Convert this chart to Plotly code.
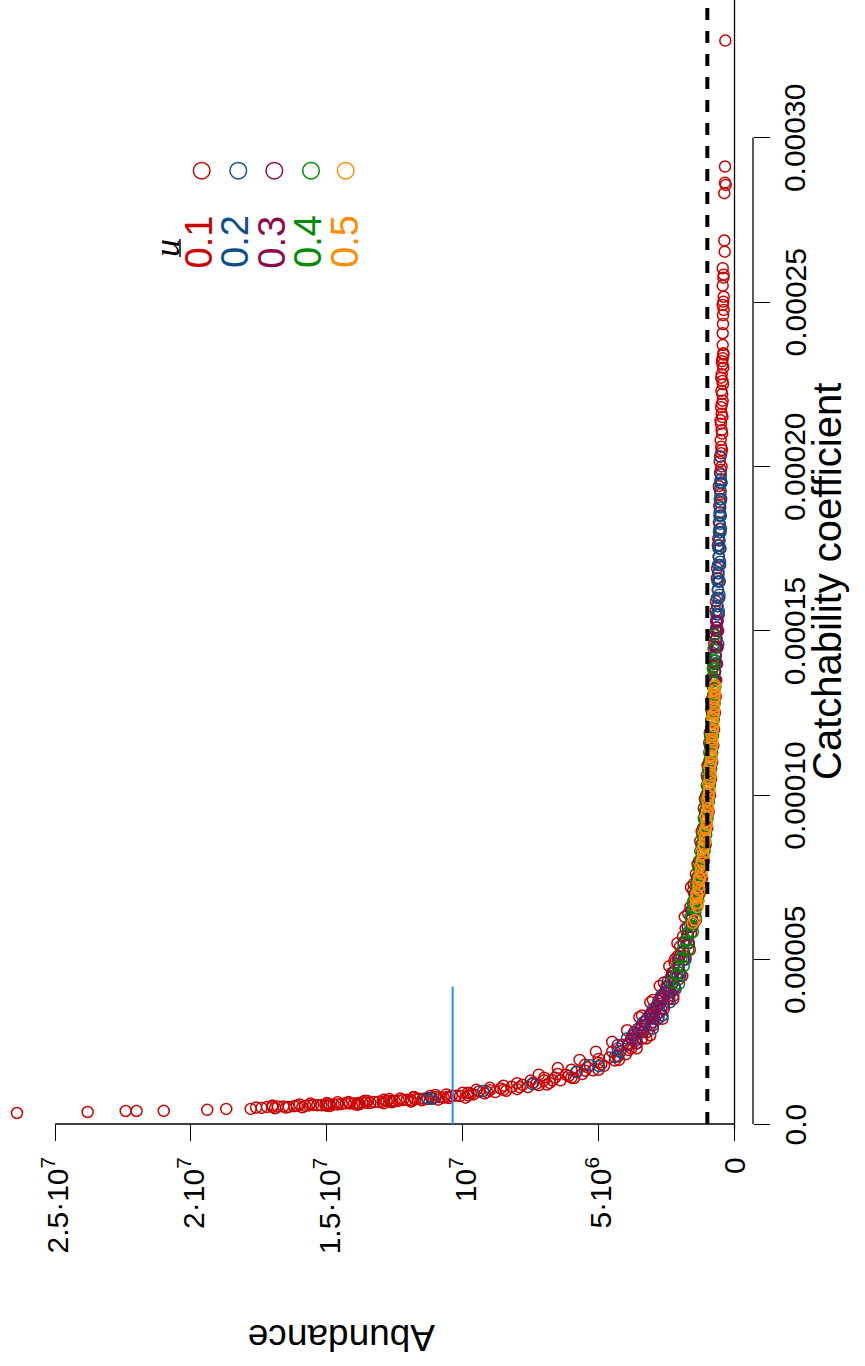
import numpy as np
import plotly.graph_objects as go

# ---------------- data (catchability in 1e-5 units, abundance in 1e6 units) -------------
Q_UNIT = 1e-5
A_UNIT = 1e6

red_points = [
    (0.335, 26.4), (0.365, 23.8), (0.395, 22.4), (0.395, 22.0), (0.40, 21.0), (0.43, 19.4), (0.46, 18.7),
    (0.50, 17.6), (0.49, 17.4), (0.52, 17.2), (0.515, 17.0), (0.53, 16.8), (0.535, 16.6), (0.52, 16.4),
    (0.54, 16.2), (0.56, 16.1), (0.55, 15.8), (0.565, 15.65), (0.58, 15.5), (0.57, 15.35), (0.57, 15.2),
    (0.59, 15.05), (0.60, 14.9), (0.595, 14.75), (0.59, 14.6), (0.61, 14.45), (0.63, 14.3), (0.62, 14.15),
    (0.62, 14.0), (0.64, 13.85), (0.66, 13.7), (0.645, 13.55), (0.64, 13.4), (0.67, 13.25), (0.68, 13.1),
    (0.68, 12.95), (0.70, 12.8), (0.70, 12.65), (0.69, 12.5), (0.71, 12.35), (0.73, 12.2), (0.735, 12.05),
    (0.72, 11.9), (0.75, 11.75), (0.77, 11.6), (0.77, 11.45), (0.76, 11.3), (0.79, 11.15), (0.81, 11.0),
    (0.815, 10.85), (0.80, 10.7), (0.83, 10.55), (0.86, 10.4), (0.86, 10.25), (0.85, 10.1),
    (0.56, 17.0), (0.59, 16.0), (0.635, 15.0), (0.67, 14.2), (0.70, 13.5), (0.74, 12.9), (0.775, 12.3),
    (0.805, 11.8), (0.85, 11.2), (0.90, 10.6), (0.95, 10.0),
    (0.50, 16.5), (0.555, 15.0), (0.60, 13.8), (0.66, 12.6), (0.72, 11.5), (0.79, 10.5),
    (0.62, 15.6), (0.66, 14.6), (0.71, 13.6), (0.76, 12.7), (0.82, 11.8), (0.88, 11.0), (0.46, 17.8),
    (0.48, 16.9), (0.51, 15.9), (0.545, 14.9), (0.585, 13.9), (0.63, 12.9), (0.68, 11.9), (0.74, 10.9),
    (0.80, 9.9),
    (0.87, 9.8), (0.95, 9.8), (0.92, 9.7), (0.90, 9.6), (0.99, 9.4), (0.93, 9.2), (0.97, 9.1), (1.03, 9.0),
    (0.97, 8.8), (1.08, 8.6), (1.04, 8.5), (1.01, 8.4), (1.13, 8.2), (1.06, 8.0), (1.12, 7.9), (1.19, 7.8),
    (1.12, 7.6), (1.26, 7.4), (1.22, 7.3), (1.18, 7.2), (1.33, 7.0), (1.25, 6.8), (1.33, 6.7), (1.41, 6.6),
    (1.33, 6.4), (1.50, 6.2), (1.46, 6.1), (1.41, 6.0), (1.60, 5.8), (1.52, 5.6), (1.62, 5.5), (1.72, 5.4),
    (1.63, 5.2), (1.86, 5.0), (1.82, 4.9), (1.77, 4.8), (2.02, 4.6), (1.93, 4.4), (2.07, 4.3), (2.21, 4.2),
    (2.12, 4.0), (2.25, 3.9),
    (1.04, 9.5), (1.10, 9.0), (1.165, 8.5), (1.24, 8.0), (1.32, 7.5), (1.41, 7.0), (1.52, 6.5), (1.65, 6.0),
    (1.80, 5.5), (1.98, 5.0), (2.20, 4.5), (2.41, 4.1),
    (1.5, 7.2), (1.7, 6.5), (1.95, 5.7), (2.2, 5.1), (2.5, 4.5), (2.85, 3.95), (3.25, 3.5), (3.7, 3.1),
    (4.2, 2.75), (4.8, 2.4), (5.5, 2.1), (6.3, 1.83), (7.2, 1.6),
    (1.2, 6.9), (1.4, 5.9), (1.65, 5.0), (1.95, 4.25), (2.3, 3.6), (2.7, 3.1), (3.2, 2.65), (3.8, 2.25),
    (4.5, 1.92), (5.3, 1.64), (6.2, 1.42),
    (2.45, 3.9), (2.3, 3.8), (2.7, 3.7), (2.45, 3.6), (2.85, 3.5), (2.6, 3.4), (3.1, 3.3), (2.8, 3.2),
    (3.3, 3.1), (3.0, 3.0), (3.55, 2.9), (3.2, 2.8), (3.85, 2.7), (3.5, 2.6), (4.2, 2.5), (3.8, 2.4),
    (4.6, 2.3), (4.15, 2.2), (5.1, 2.1), (4.6, 2.0), (5.7, 1.9), (5.1, 1.8), (6.4, 1.7), (5.8, 1.6),
    (7.3, 1.5), (6.5, 1.45), (3.77, 3.0), (4.3, 2.6), (3.3, 3.4), (5.0, 2.2),
    (2.55, 3.75), (2.9, 3.45), (3.25, 3.05), (3.65, 2.75), (4.0, 2.55), (4.45, 2.35), (4.9, 2.2),
    (5.4, 2.0), (5.95, 1.8), (6.6, 1.62), (3.9, 2.25), (4.4, 2.05), (5.5, 1.68), (6.1, 1.5), (6.8, 1.38),
    (2.05, 4.3), (2.6, 3.25),
    (7.0, 1.29), (7.1, 1.52), (7.45, 1.20), (7.6, 1.42), (8.0, 1.13), (7.9, 1.36), (8.5, 1.06), (8.6, 1.26),
    (9.0, 1.0), (8.9, 1.21), (9.5, 0.95), (9.6, 1.13), (10.0, 0.90), (9.9, 1.09), (10.5, 0.86), (10.6, 1.02),
    (11.0, 0.82), (10.9, 0.99), (11.5, 0.78), (11.6, 0.93), (12.0, 0.75), (11.9, 0.91), (12.5, 0.72),
    (12.6, 0.85), (13.0, 0.69), (12.9, 0.84), (13.5, 0.67), (13.6, 0.79), (14.0, 0.64), (13.9, 0.78),
    (14.5, 0.62), (14.6, 0.74), (15.0, 0.60), (14.9, 0.73), (15.5, 0.58), (15.6, 0.69), (16.0, 0.56),
    (15.9, 0.68), (16.5, 0.545), (16.6, 0.65), (17.0, 0.53), (16.9, 0.64), (17.5, 0.515), (17.6, 0.615),
    (7.25, 1.37), (8.25, 1.2), (9.25, 1.08), (10.25, 0.98), (11.25, 0.89), (12.25, 0.82), (13.25, 0.76),
    (14.25, 0.70), (15.25, 0.655), (16.25, 0.62), (17.25, 0.585),
    (13.75, 0.72), (14.75, 0.68), (15.75, 0.63), (16.75, 0.60), (17.75, 0.56),
    (17.8, 0.60), (18.0, 0.53), (18.3, 0.575), (18.5, 0.52), (18.8, 0.56), (19.0, 0.50), (19.3, 0.545),
    (19.5, 0.49), (19.8, 0.53), (20.0, 0.475), (20.3, 0.52), (20.5, 0.465), (20.8, 0.51), (21.0, 0.455),
    (21.3, 0.50), (21.5, 0.445), (21.8, 0.49), (22.0, 0.435), (22.3, 0.48), (22.5, 0.425), (22.8, 0.47),
    (23.0, 0.415), (23.2, 0.46), (23.4, 0.41), (18.1, 0.55), (18.9, 0.525), (19.6, 0.51), (20.4, 0.49),
    (21.1, 0.475), (21.9, 0.46), (22.6, 0.445),
    (18.6, 0.545), (19.15, 0.52), (19.9, 0.50), (20.6, 0.49), (21.6, 0.47), (22.2, 0.455), (23.1, 0.44),
    (20.15, 0.545), (21.4, 0.515), (22.7, 0.49), (19.4, 0.575),
    (32.95, 0.338), (29.12, 0.35), (28.63, 0.35), (28.56, 0.324), (28.31, 0.375), (26.87, 0.375),
    (26.53, 0.36), (26.03, 0.434), (25.83, 0.397), (25.74, 0.41), (25.5, 0.434), (25.16, 0.397),
    (25.01, 0.41), (24.91, 0.434), (24.76, 0.397), (24.6, 0.423), (24.33, 0.423), (24.05, 0.434),
    (23.69, 0.434), (23.44, 0.41), (23.29, 0.434),
]

blue_points = [
    (0.79, 11.31), (0.76, 11.13), (1.0, 9.25), (1.22, 7.45), (1.58, 5.83), (1.79, 5.32), (1.76, 4.99),
    (2.04, 4.40), (2.19, 4.21), (3.22, 2.81),
    (2.6, 3.6), (2.6, 3.96), (3.0, 3.1), (3.0, 3.43), (3.4, 2.74), (3.4, 3.03), (3.8, 2.45), (3.8, 2.71),
    (4.2, 2.21), (4.2, 2.45), (4.6, 2.02), (4.6, 2.24), (5.0, 1.86), (5.0, 2.06), (5.5, 1.69), (5.5, 1.87),
    (6.0, 1.55), (6.0, 1.72), (6.5, 1.43), (6.5, 1.58), (7.0, 1.33), (7.0, 1.47), (7.5, 1.24), (7.5, 1.37),
    (8.0, 1.16), (8.0, 1.29), (8.5, 1.09), (8.5, 1.21), (9.0, 1.03), (9.0, 1.14), (9.5, 0.98), (9.5, 1.08),
    (10.0, 0.93), (10.0, 1.03), (10.5, 0.886), (10.5, 0.98), (11.0, 0.845), (11.0, 0.936), (11.5, 0.81),
    (11.5, 0.895), (12.0, 0.775), (12.0, 0.86), (12.5, 0.745), (12.5, 0.824), (13.0, 0.715), (13.0, 0.79),
    (13.5, 0.69), (13.5, 0.763), (14.0, 0.664), (14.0, 0.736), (14.5, 0.64), (14.5, 0.71), (15.0, 0.62),
    (15.0, 0.687), (15.5, 0.60), (15.5, 0.665), (16.0, 0.58), (16.0, 0.644), (16.5, 0.564), (16.5, 0.624),
    (17.0, 0.547), (17.0, 0.606), (17.5, 0.53), (17.5, 0.59), (18.0, 0.517), (18.0, 0.572), (18.5, 0.503),
    (18.5, 0.557), (19.0, 0.49), (19.0, 0.542), (19.5, 0.477), (19.5, 0.528), (20.3, 0.533),
    (2.8, 3.4), (3.2, 3.1), (3.6, 2.8), (4.0, 2.45), (4.4, 2.25), (4.8, 2.05), (5.25, 1.87), (5.75, 1.71),
    (6.25, 1.57), (6.75, 1.46), (7.25, 1.36), (7.75, 1.27), (8.25, 1.19), (8.75, 1.12), (9.25, 1.06),
    (9.75, 1.005), (10.25, 0.955), (10.75, 0.91), (11.25, 0.87), (11.75, 0.835), (12.25, 0.80),
    (12.75, 0.77), (13.25, 0.74), (13.75, 0.715), (14.25, 0.69), (14.75, 0.665), (15.25, 0.645),
    (15.75, 0.625), (16.25, 0.605), (16.75, 0.585), (17.25, 0.57), (17.75, 0.555), (18.25, 0.54),
    (18.75, 0.525), (19.25, 0.51), (19.75, 0.50), (16.1, 0.555), (17.1, 0.53), (18.1, 0.50), (14.6, 0.60),
    (15.6, 0.58),
    (2.3, 4.3), (2.7, 3.75), (3.1, 3.35), (3.5, 3.0), (3.9, 2.7), (4.35, 2.45), (2.9, 3.0), (3.3, 2.65),
    (3.7, 2.38), (4.1, 2.17), (4.5, 1.99), (5.0, 1.80),
    (14.1, 0.70), (15.1, 0.665), (16.6, 0.59), (17.6, 0.56), (18.6, 0.53), (19.6, 0.505),
]

purple_points = [
    (2.46, 3.59), (2.52, 3.66), (3.3, 2.88),
    (2.4, 3.9), (2.4, 4.3), (2.8, 3.36), (2.8, 3.68), (3.2, 2.95), (3.2, 3.22), (3.6, 2.6), (3.6, 2.86),
    (4.0, 2.35), (4.0, 2.58), (4.5, 2.09), (4.5, 2.29), (5.0, 1.88), (5.0, 2.06), (5.5, 1.71), (5.5, 1.87),
    (6.0, 1.57), (6.0, 1.72), (6.5, 1.45), (6.5, 1.58), (7.0, 1.34), (7.0, 1.47), (7.5, 1.25), (7.5, 1.37),
    (8.0, 1.17), (8.0, 1.29), (8.5, 1.10), (8.5, 1.21), (9.0, 1.04), (9.0, 1.14), (9.5, 0.99), (9.5, 1.08),
    (10.0, 0.94), (10.0, 1.03), (10.5, 0.90), (10.5, 0.98), (11.0, 0.86), (11.0, 0.94), (11.5, 0.82),
    (11.5, 0.90), (12.0, 0.785), (12.0, 0.86), (12.5, 0.75), (12.5, 0.825), (13.0, 0.72), (13.0, 0.79),
    (13.5, 0.70), (13.5, 0.765), (14.0, 0.67), (14.0, 0.74), (14.5, 0.65), (14.5, 0.71), (15.0, 0.63),
    (15.0, 0.69), (15.3, 0.62), (15.3, 0.675),
    (4.25, 2.30), (4.75, 2.07), (5.25, 1.88), (5.75, 1.72), (6.25, 1.58), (6.75, 1.47), (7.25, 1.37),
    (7.75, 1.28), (8.25, 1.20), (8.75, 1.13), (9.25, 1.07), (9.75, 1.02), (10.25, 0.97), (10.75, 0.925),
    (11.25, 0.885), (11.75, 0.845), (12.25, 0.81), (12.75, 0.78), (13.25, 0.75), (13.75, 0.725),
    (14.25, 0.70), (14.75, 0.675), (15.1, 0.655), (2.6, 3.8), (3.0, 3.3), (3.4, 2.95), (3.8, 2.65),
    (2.9, 3.55), (3.35, 3.1), (3.75, 2.8), (4.15, 2.5), (4.6, 2.25), (5.1, 2.02), (5.6, 1.80), (3.1, 3.0),
    (3.5, 2.7), (3.9, 2.42),
]

green_points = [
    (4.26, 2.04), (5.84, 1.53), (6.72, 1.53), (6.55, 1.45),
    (4.3, 2.3), (4.8, 1.87), (4.8, 2.1), (5.3, 1.70), (5.3, 1.90), (5.8, 1.75), (6.3, 1.43), (6.3, 1.62),
    (6.8, 1.33), (6.8, 1.51), (7.3, 1.25), (7.3, 1.42), (7.8, 1.17), (7.8, 1.33), (8.3, 1.10), (8.3, 1.26),
    (8.8, 1.04), (8.8, 1.19), (9.3, 0.99), (9.3, 1.13), (9.8, 0.94), (9.8, 1.07), (10.3, 0.90), (10.3, 1.02),
    (10.8, 0.86), (10.8, 0.97), (11.3, 0.82), (11.3, 0.93), (11.8, 0.79), (11.8, 0.90), (12.3, 0.76),
    (12.3, 0.86), (12.8, 0.73), (12.8, 0.83), (13.3, 0.70), (13.3, 0.80), (13.6, 0.82), (14.0, 0.79),
    (14.1, 0.785), (14.87, 0.754),
    (4.55, 2.15), (5.05, 1.95), (5.55, 1.78), (6.05, 1.63), (6.55, 1.52), (7.05, 1.42), (7.55, 1.33),
    (8.05, 1.25), (8.55, 1.18), (9.05, 1.12), (9.55, 1.06), (10.05, 1.01), (10.55, 0.96), (11.05, 0.92),
    (11.55, 0.88), (12.05, 0.845), (12.55, 0.81), (13.05, 0.785), (13.45, 0.80), (13.85, 0.80), (14.45, 0.77),
]

orange_points = [
    (6.6, 1.36), (6.85, 1.43), (7.1, 1.28), (7.35, 1.33), (7.6, 1.20), (7.85, 1.25), (8.1, 1.13),
    (8.35, 1.18), (8.6, 1.07), (8.85, 1.12), (9.1, 1.01), (9.35, 1.06), (9.6, 0.96), (9.85, 1.00),
    (10.1, 0.92), (10.35, 0.96), (10.6, 0.88), (10.85, 0.92), (11.1, 0.84), (11.35, 0.88), (11.6, 0.81),
    (11.85, 0.84), (12.1, 0.78), (12.35, 0.81), (12.6, 0.75), (12.85, 0.78), (13.1, 0.73), (13.3, 0.75),
    (6.72, 1.34), (6.2, 1.45), (6.11, 1.53), (7.0, 1.39), (7.5, 1.29), (8.0, 1.20), (8.5, 1.12), (9.0, 1.06),
    (9.5, 1.00), (10.0, 0.95), (10.5, 0.90), (11.0, 0.86), (11.5, 0.82), (12.0, 0.79), (12.5, 0.76),
    (13.0, 0.735),
    (6.7, 1.42), (6.95, 1.37), (7.2, 1.33), (7.45, 1.27), (7.7, 1.24), (7.95, 1.19), (8.2, 1.16),
    (8.45, 1.12), (8.7, 1.09), (8.95, 1.06), (9.2, 1.03), (9.45, 1.00), (9.7, 0.98), (9.95, 0.95),
    (10.2, 0.93), (10.45, 0.91), (10.7, 0.89), (10.95, 0.87), (11.2, 0.85), (11.45, 0.83), (11.7, 0.815),
    (11.95, 0.80), (12.2, 0.785), (12.45, 0.77), (12.7, 0.755), (12.95, 0.745), (13.2, 0.735), (13.35, 0.72),
]

series_names = ["0.1", "0.2", "0.3", "0.4", "0.5"]
series_colors = ["#CD0000", "#104E8B", "#8B0A50", "#008B00", "#FF8C00"]
series_points = [red_points, blue_points, purple_points, green_points, orange_points]

reference_abundance = 1.0e6          # dashed line
marked_abundance = 10.37e6           # blue segment
marked_q_top = 4.18e-5

abund_ticks = [0, 5e6, 1e7, 1.5e7, 2e7, 2.5e7]
abund_labels = ["0", "5·10<sup>6</sup>", "10<sup>7</sup>", "1.5·10<sup>7</sup>",
                "2·10<sup>7</sup>", "2.5·10<sup>7</sup>"]
q_ticks = [0, 5e-5, 1e-4, 1.5e-4, 2e-4, 2.5e-4, 3e-4]
q_labels = ["0.0", "0.00005", "0.00010", "0.00015", "0.00020", "0.00025", "0.00030"]

# ---------------- layout geometry ----------------
W, H = 865, 1366
PW, PH = 770, 1130          # paper area inside margins
X_RANGE = [27.024e6, -0.2024e6]
Y_RANGE = [-1.8248e-6, 3.4185e-4]

def px(x):
    return x / PW

def py(y):
    return (PH - y) / PH

def qpaper(q):
    return (q - Y_RANGE[0]) / (Y_RANGE[1] - Y_RANGE[0])

FONT = "Liberation Sans, Arial, Helvetica, sans-serif"

fig = go.Figure()
for name, color, pts in zip(series_names, series_colors, series_points):
    arr = np.array(pts, dtype=float)
    fig.add_trace(go.Scatter(
        x=arr[:, 1] * A_UNIT, y=arr[:, 0] * Q_UNIT, mode="markers", name=name,
        marker=dict(symbol="circle-open", size=11, color=color, line=dict(width=1.5, color=color)),
        showlegend=False, hoverinfo="skip"))

shapes = []
shapes.append(dict(type="line", xref="x", yref="y", x0=abund_ticks[0], x1=abund_ticks[-1], y0=0, y1=0,
                   line=dict(color="black", width=1.3)))
shapes.append(dict(type="line", xref="paper", yref="paper", x0=px(753), x1=px(753),
                   y0=qpaper(q_ticks[0]), y1=qpaper(q_ticks[-1]), line=dict(color="black", width=1.3)))
shapes.append(dict(type="line", xref="x", yref="paper", x0=0, x1=0, y0=0, y1=1,
                   line=dict(color="black", width=1.3)))
shapes.append(dict(type="line", xref="x", yref="paper", x0=reference_abundance, x1=reference_abundance,
                   y0=qpaper(0), y1=1, line=dict(color="black", width=4, dash="12px,11px")))
shapes.append(dict(type="line", xref="x", yref="y", x0=marked_abundance, x1=marked_abundance,
                   y0=0, y1=marked_q_top, line=dict(color="#1E90FF", width=2)))

annotations = []
for v, t in zip(abund_ticks, abund_labels):
    annotations.append(dict(text=t, xref="x", x=v, yref="paper", y=py(1155), textangle=-90,
                            showarrow=False, xanchor="center", yanchor="top",
                            font=dict(family=FONT, size=30, color="black")))
for v, t in zip(q_ticks, q_labels):
    annotations.append(dict(text=t, xref="paper", x=px(776), yref="y", y=v, textangle=-90,
                            showarrow=False, xanchor="left", yanchor="middle",
                            font=dict(family=FONT, size=30, color="black")))

leg_x_circ = [201.7, 238.3, 274.3, 311.0, 345.7]
leg_x_text = [198.5, 235.0, 271.7, 308.0, 345.0]
for name, color, xc, xt in zip(series_names, series_colors, leg_x_circ, leg_x_text):
    shapes.append(dict(type="circle", xref="paper", yref="paper", xsizemode="pixel", ysizemode="pixel",
                       xanchor=px(xc), yanchor=py(170.7), x0=-8.3, x1=8.3, y0=-8.3, y1=8.3,
                       line=dict(color=color, width=1.5)))
    annotations.append(dict(text=name, xref="paper", yref="paper", x=px(xt), y=py(242), textangle=-90,
                            showarrow=False, xanchor="center", yanchor="middle",
                            font=dict(family=FONT, size=38, color=color)))
annotations.append(dict(text="<i>u</i>", xref="paper", yref="paper", x=px(167), y=py(248), textangle=-90,
                        showarrow=False, xanchor="center", yanchor="middle",
                        font=dict(family="Liberation Serif, Times New Roman, serif", size=36, color="black")))
shapes.append(dict(type="line", xref="paper", yref="paper", x0=px(180), x1=px(180), y0=py(239), y1=py(257),
                   line=dict(color="black", width=1.5)))

annotations.append(dict(text="Catchability coefficient", xref="paper", yref="paper", x=px(827), y=py(582),
                        textangle=-90, showarrow=False, xanchor="center", yanchor="middle",
                        font=dict(family=FONT, size=40, color="black")))
annotations.append(dict(text="Abundance", xref="paper", yref="paper", x=px(342), y=py(1338),
                        textangle=180, showarrow=False, xanchor="center", yanchor="middle",
                        font=dict(family=FONT, size=37, color="black")))

fig.update_layout(
    template="none",
    width=W, height=H, autosize=False,
    margin=dict(l=0, r=W - PW, t=0, b=H - PH, pad=0),
    paper_bgcolor="white", plot_bgcolor="white",
    showlegend=False,
    font=dict(family=FONT, color="black", size=30),
    xaxis=dict(domain=[0, 740 / PW], range=X_RANGE, anchor="free", position=6 / PH,
               showgrid=False, zeroline=False, showline=False, automargin=False,
               ticks="outside", ticklen=16, tickwidth=1.3, tickcolor="black",
               tickmode="array", tickvals=abund_ticks, showticklabels=False),
    yaxis=dict(domain=[0, 1], range=Y_RANGE, anchor="free", position=753 / PW, side="right",
               showgrid=False, zeroline=False, showline=False, automargin=False,
               ticks="outside", ticklen=16, tickwidth=1.3, tickcolor="black",
               tickmode="array", tickvals=q_ticks, showticklabels=False),
    shapes=shapes,
    annotations=annotations,
)

fig.write_html("out.html")
